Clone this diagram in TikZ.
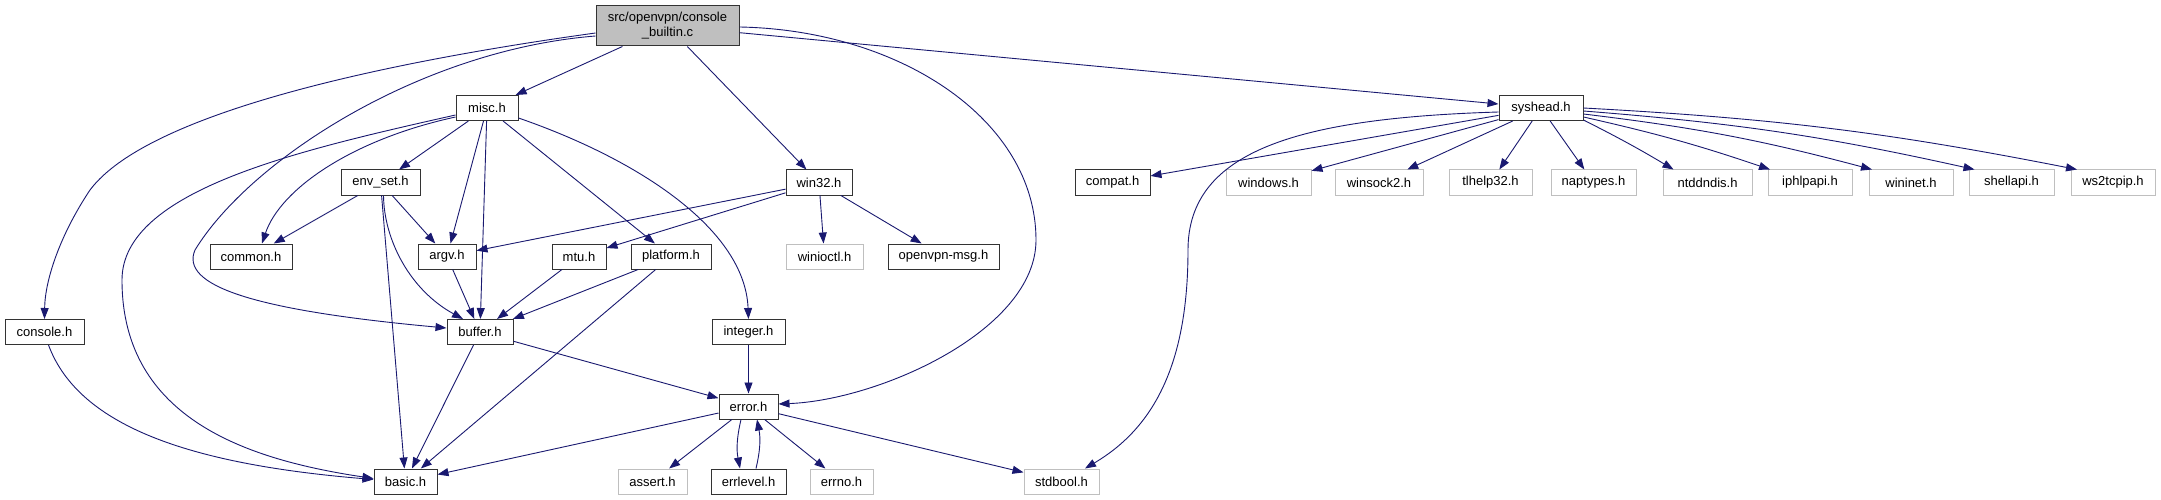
\documentclass[tikz,border=0pt]{standalone}
\usepackage{fontspec}
\setmainfont{Liberation Sans}
\usetikzlibrary{arrows.meta}
\definecolor{edgeblue}{HTML}{191970}
\definecolor{boxborder}{HTML}{333333}
\definecolor{sysgray}{HTML}{BFBFBF}
\definecolor{maingray}{HTML}{BFBFBF}
\tikzset{
  box/.style={draw=boxborder, line width=1pt, fill=white, minimum height=25pt,
    minimum width=#1, inner sep=0pt, font=\fontsize{13}{15}\selectfont},
  sys/.style={box=#1, draw=sysgray},
  edge/.style={draw=edgeblue, line width=0.9pt, -{Triangle[length=11pt,width=8pt]}},
}
\begin{document}
\begin{tikzpicture}[x=1pt,y=-1pt]
\useasboundingbox (0,0) rectangle (2161,500);
\fill[white] (0,0) rectangle (2161,500);

% nodes
\node[box=143, fill=maingray, minimum height=40pt, align=center] (main) at (667.5,26) {src/openvpn/console\\\_builtin.c};
\node[box=62] (misc) at (487,108) {misc.h};
\node[box=84] (syshead) at (1541,108) {syshead.h};
\node[box=79] (envset) at (380.5,182.5) {env\_set.h};
\node[box=66] (win32) at (819,182.5) {win32.h};
\node[box=75] (compat) at (1112.5,182.5) {compat.h};
\node[sys=85] (windows) at (1268.5,182.5) {windows.h};
\node[sys=88] (winsock2) at (1379,182.5) {winsock2.h};
\node[sys=83] (tlhelp) at (1490.5,182.5) {tlhelp32.h};
\node[sys=85] (naptypes) at (1593.5,182.5) {naptypes.h};
\node[sys=89] (ntddndis) at (1707.5,182.5) {ntddndis.h};
\node[sys=84] (iphlpapi) at (1810,182.5) {iphlpapi.h};
\node[sys=84] (wininet) at (1911,182.5) {wininet.h};
\node[sys=85] (shellapi) at (2011.5,182.5) {shellapi.h};
\node[sys=84] (ws2tcpip) at (2113,182.5) {ws2tcpip.h};
\node[box=82] (common) at (251,256.5) {common.h};
\node[box=58] (argv) at (447,256.5) {argv.h};
\node[box=54] (mtu) at (579,256.5) {mtu.h};
\node[box=80] (platform) at (671,256.5) {platform.h};
\node[sys=77] (winioctl) at (824.5,256.5) {winioctl.h};
\node[box=111] (ovpnmsg) at (943.5,256.5) {openvpn-msg.h};
\node[box=79] (console) at (44.5,332) {console.h};
\node[box=66] (buffer) at (480,332) {buffer.h};
\node[box=73] (integer) at (748.5,332) {integer.h};
\node[box=59] (error) at (748.5,406.5) {error.h};
\node[box=63] (basic) at (405.5,481.5) {basic.h};
\node[sys=69] (assert) at (652.5,481.5) {assert.h};
\node[box=75] (errlevel) at (748.5,481.5) {errlevel.h};
\node[sys=63] (errno) at (841.5,481.5) {errno.h};
\node[sys=75] (stdbool) at (1061.5,481.5) {stdbool.h};

% straight edges
\foreach \a/\b in {main/misc, main/win32, main/syshead,
  misc/envset, misc/argv, misc/buffer, misc/platform,
  envset/common, envset/argv, envset/basic,
  argv/buffer, mtu/buffer, platform/buffer, platform/basic,
  buffer/basic, buffer/error, integer/error,
  error/basic, error/assert, error/errno, error/stdbool,
  win32/argv, win32/mtu, win32/winioctl, win32/ovpnmsg,
  syshead/compat, syshead/windows, syshead/winsock2, syshead/tlhelp,
  syshead/naptypes}
  \draw[edge] (\a) -- (\b);

% syshead fan to the right (slightly bowed)
\draw[edge] ([yshift=-12pt]syshead.east) to[bend left=2] ([xshift=-34pt]ntddndis.north);
\draw[edge] ([yshift=-9pt]syshead.east) to[bend left=3] ([xshift=-40pt]iphlpapi.north);
\draw[edge] ([yshift=-6pt]syshead.east) to[bend left=4] ([xshift=-39pt]wininet.north);
\draw[edge] ([yshift=-3pt]syshead.east) to[bend left=4] ([xshift=-37pt]shellapi.north);
\draw[edge] ([yshift=0pt]syshead.east) to[bend left=4] ([xshift=-36pt]ws2tcpip.north);

% curved edges
\draw[edge] ([yshift=-7pt]main.west) .. controls (400,60) and (150,110) .. (90,190)
  .. controls (60,235) and (45,280) .. (console.north);
\draw[edge] ([yshift=-10pt]main.west) .. controls (420,50) and (250,160) .. (195,250)
  .. controls (180,285) and (250,310) .. ([yshift=4pt]buffer.west);
\draw[edge] ([yshift=-1pt]main.east) .. controls (900,30) and (1036,120) .. (1036,240)
  .. controls (1036,330) and (880,400) .. ([yshift=2.5pt]error.east);
\draw[edge] ([yshift=-7pt]misc.west) .. controls (300,150) and (122,190) .. (122,280)
  .. controls (122,420) and (250,460) .. ([yshift=3pt]basic.west);
\draw[edge] ([yshift=-9pt]misc.west) .. controls (350,140) and (280,190) .. ([xshift=11pt]common.north);
\draw[edge] ([yshift=-10pt]misc.east) .. controls (640,160) and (745,230) .. (integer.north);
\draw[edge] ([xshift=3pt]envset.south) .. controls (384,240) and (410,290) .. ([xshift=-17pt]buffer.north);
\draw[edge] ([xshift=4pt]console.south) .. controls (80,430) and (200,465) .. ([yshift=2pt]basic.west);
\draw[edge] ([yshift=-4pt]syshead.west) .. controls (1300,118) and (1188,150) .. (1188,250)
  .. controls (1188,370) and (1150,430) .. ([xshift=23.5pt]stdbool.north);
\draw[edge] ([xshift=-7.5pt]error.south) to[bend right=12] ([xshift=-8.5pt]errlevel.north);
\draw[edge] ([xshift=7.5pt]errlevel.north) to[bend right=12] ([xshift=8.5pt]error.south);
\end{tikzpicture}
\end{document}
